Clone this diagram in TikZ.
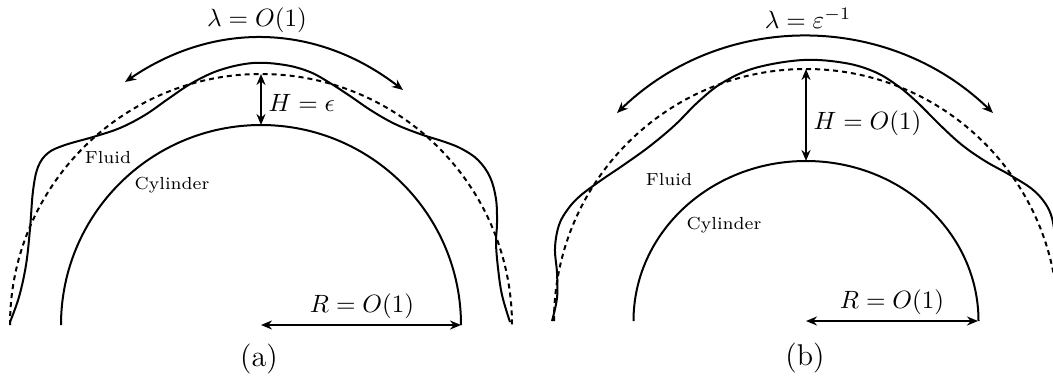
\documentclass[tikz,border=0pt]{standalone}
\usetikzlibrary{positioning,arrows.meta}

\begin{document}
\begin{tikzpicture}[
x=0.4pt,y=0.4pt,
wall/.style={thick},
free/.style={thick,dash pattern=on 2pt off 1.6pt},
film/.style={thick,smooth,tension=0.6},
dimarrow/.style={{Stealth[length=4.4pt,width=3.6pt]}-{Stealth[length=4.4pt,width=3.6pt]},thick},
note/.style={font=\scriptsize,inner sep=0pt},
mlbl/.style={inner sep=0pt}
]
\useasboundingbox (0,0) rectangle (1053,383);
\clip (0,0) rectangle (1053,383);

% (a) thin film, H = epsilon
\coordinate (cA) at (261,58);
\coordinate (rA) at (461,58);
\coordinate (topA) at (261,309);
\coordinate (cylA) at (261,258);
\coordinate (lamLA) at (125,301);
\coordinate (lamRA) at (403,293);
\draw[wall] (61,58) arc[start angle=180,end angle=0,radius=200];
\draw[free] (10,58) arc[start angle=180,end angle=0,radius=251];
\draw[film] plot coordinates {(10,61) (19,86) (26,118) (30,154) (33,192) (38,216)
  (48,230) (65,238) (93,246) (120,255) (145,268) (168,284) (192,300) (220,313)
  (253,320) (285,318) (310,311) (330,300) (350,287) (372,272) (395,259) (420,249)
  (445,241) (462,234) (478,223) (490,206) (496,184) (497,160) (496,140) (498,115)
  (502,88) (510,61)};
\draw[dimarrow] (lamLA) to[bend left=36] (lamRA);
\draw[dimarrow] (topA) -- (cylA);
\draw[dimarrow] (cA) -- (rA);
\node[mlbl] (lamA) at (257,363) {$\lambda = O(1)$};
\node[mlbl,anchor=west] (hA) at (268,280) {$H = \epsilon$};
\node[mlbl] (RA) at (362,77) {$R = O(1)$};
\node[note] (fluidA) at (108,225) {Fluid};
\node[note] (cylnA) at (172,198) {Cylinder};
\node[font=\large] (capA) at (259,24) {(a)};

% (b) thick film, H = O(1)
\coordinate (cB) at (806,62);
\coordinate (rB) at (978,62);
\coordinate (topB) at (806,314);
\coordinate (cylB) at (806,222);
\coordinate (lamLB) at (617,270);
\coordinate (lamRB) at (993,270);
\draw[wall] (633.5,62) arc[start angle=180,end angle=0,x radius=172.5,y radius=160];
\draw[free] (554,62) arc[start angle=180,end angle=0,radius=252];
\draw[film] plot coordinates {(552,62) (557,85) (557,110) (555,135) (559,158)
  (568,174) (580,187) (600,202) (625,219) (650,237) (675,258) (698,281) (722,300)
  (755,315) (803,323) (845,320) (875,311) (898,297) (918,280) (940,258) (962,238)
  (985,222) (1010,208) (1032,194) (1045,180) (1052,165) (1055,145) (1057,120)};
\draw[dimarrow] (lamLB) to[bend left=44] (lamRB);
\draw[dimarrow] (topB) -- (cylB);
\draw[dimarrow] (cB) -- (rB);
\node[mlbl] (lamB) at (808,365) {$\lambda = \varepsilon^{-1}$};
\node[mlbl,anchor=west] (hB) at (813,260) {$H = O(1)$};
\node[mlbl] (RB) at (892,81) {$R = O(1)$};
\node[note] (fluidB) at (669,203) {Fluid};
\node[note] (cylnB) at (724,158) {Cylinder};
\node[font=\large] (capB) at (805,25) {(b)};
\end{tikzpicture}
\end{document}
